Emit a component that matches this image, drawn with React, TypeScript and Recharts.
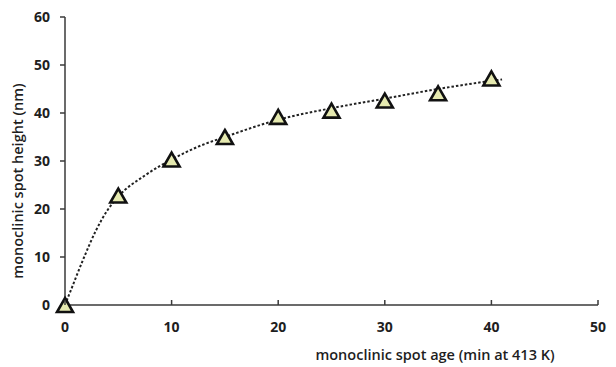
import { ComposedChart, Line, Scatter, XAxis, YAxis, Label } from 'recharts';

// measured points (age in min, height in nm)
const ages = [0, 5, 10, 15, 20, 25, 30, 35, 40];
const heights = [0, 22.8, 30.3, 35, 39.2, 40.5, 42.6, 44.1, 47.2];

// dotted trend line
const trendAges = [0, 0.5, 1, 1.8, 2.9, 4, 5, 7.5, 10, 12.5, 15, 20, 25, 30, 35, 40, 41];
const trendHeights = [0, 2.8, 5.6, 10, 15.5, 19.8, 22.6, 27, 30.3, 33, 35, 38.6, 41, 43, 45, 46.7, 47];

const xTicks = [0, 10, 20, 30, 40, 50];
const yTicks = [0, 10, 20, 30, 40, 50, 60];

const points = ages.map((x, i) => ({ x, y: heights[i] }));
const trend = trendAges.map((x, i) => ({ x, y: trendHeights[i] }));

const FONT = '"Open Sans", "Liberation Sans", sans-serif';
const AXIS = '#3a3a3a';
const TEXT = '#1e1e1e';

function Triangle(props: any) {
  const { cx, cy } = props;
  if (cx == null || cy == null) return null;
  const w = 8, h = 7;
  return (
    <path
      d={`M${cx},${cy - h} L${cx + w},${cy + h} L${cx - w},${cy + h} Z`}
      fill="#e6eab0"
      stroke="#111"
      strokeWidth={2.6}
    />
  );
}

function XTick(props: any) {
  const { x, y, payload } = props;
  return (
    <g>
      <line x1={x} x2={x} y1={y} y2={y - 5} stroke={AXIS} strokeWidth={1.5} />
      <text x={x} y={y + 27} textAnchor="middle" fontFamily={FONT} fontWeight={700} fontSize={14} fill={TEXT}>
        {payload.value}
      </text>
    </g>
  );
}

const xLabel = () => (
  <text x={435} y={360} textAnchor="middle" fontFamily={FONT} fontWeight={600} fontSize={14.5} fill={TEXT}>
    monoclinic spot age (min at 413 K)
  </text>
);

const yLabel = () => (
  <text
    x={0}
    y={0}
    transform="translate(23, 181) rotate(-90)"
    textAnchor="middle"
    fontFamily={FONT}
    fontWeight={600}
    fontSize={14.5}
    fill={TEXT}
  >
    monoclinic spot height (nm)
  </text>
);

export default function App() {
  return (
    <div style={{ position: 'absolute', left: 0, top: 0, width: 616, height: 367, background: '#fff' }}>
      <ComposedChart width={616} height={367} margin={{ top: 17, right: 18, bottom: 32, left: 20 }}>
        <XAxis
          type="number"
          dataKey="x"
          domain={[0, 50]}
          ticks={xTicks}
          height={30}
          tickLine={false}
          tickSize={0}
          tickMargin={0}
          tick={<XTick />}
          stroke={AXIS}
          strokeWidth={1.5}
          interval={0}
        >
          <Label content={xLabel} />
        </XAxis>
        <YAxis
          type="number"
          dataKey="y"
          domain={[0, 60]}
          ticks={yTicks}
          width={45}
          tickSize={5}
          tickMargin={10}
          stroke={AXIS}
          strokeWidth={1.5}
          tick={{ fontFamily: FONT, fontWeight: 700, fontSize: 14, fill: TEXT }}
          interval={0}
        >
          <Label content={yLabel} />
        </YAxis>
        <Line
          data={trend}
          dataKey="y"
          type="monotone"
          stroke="#222"
          strokeWidth={2}
          strokeDasharray="2.5 2"
          dot={false}
          activeDot={false}
          isAnimationActive={false}
        />
        <Scatter data={points} dataKey="y" shape={<Triangle />} isAnimationActive={false} />
      </ComposedChart>
    </div>
  );
}
